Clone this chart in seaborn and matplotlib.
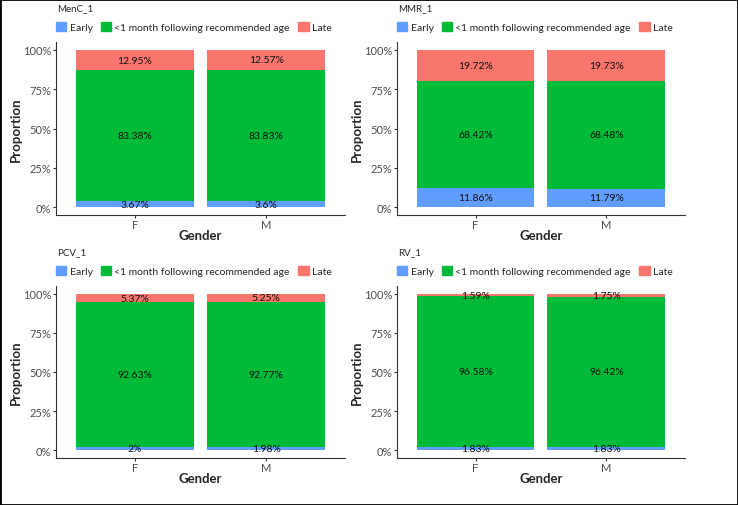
import numpy as np
import pandas as pd
import matplotlib
matplotlib.use("Agg")
import matplotlib.pyplot as plt
import matplotlib.patches as mpatches
from matplotlib.ticker import PercentFormatter
import seaborn as sns

sns.set_style("white")
plt.rcParams['font.family'] = ['Lato', 'DejaVu Sans']

# ---- data (percent) ----
vaccines = ['MenC_1', 'MMR_1', 'PCV_1', 'RV_1']
genders = ['F', 'M']
categories = ['Early', '<1 month following recommended age', 'Late']

early = {'MenC_1': [3.67, 3.6], 'MMR_1': [11.86, 11.79],
         'PCV_1': [2, 1.98], 'RV_1': [1.83, 1.83]}
on_time = {'MenC_1': [83.38, 83.83], 'MMR_1': [68.42, 68.48],
           'PCV_1': [92.63, 92.77], 'RV_1': [96.58, 96.42]}
late = {'MenC_1': [12.95, 12.57], 'MMR_1': [19.72, 19.73],
        'PCV_1': [5.37, 5.25], 'RV_1': [1.59, 1.75]}

colors = ['#619CFF', '#00BA38', '#F8766D']

fig = plt.figure(figsize=(7.38, 5.06), dpi=100)

# axes boxes (left, bottom, width, height) in figure fraction
boxes = [
    [0.0759, 0.5731, 0.3916, 0.3419],
    [0.5379, 0.5731, 0.3902, 0.3419],
    [0.0759, 0.0929, 0.3916, 0.3399],
    [0.5379, 0.0929, 0.3902, 0.3399],
]

for vac, box in zip(vaccines, boxes):
    ax = fig.add_axes(box)
    df = pd.DataFrame({'Gender': genders,
                       'Early': early[vac],
                       'OnTime': on_time[vac],
                       'Late': late[vac]})
    df['top'] = (df['Early'] + df['OnTime'] + df['Late']) / 100
    df['mid'] = (df['Early'] + df['OnTime']) / 100
    df['low'] = df['Early'] / 100

    # overlapping bars give the stacked look
    sns.barplot(data=df, x='Gender', y='top', color=colors[2], width=0.9,
                saturation=1, ax=ax, linewidth=0)
    sns.barplot(data=df, x='Gender', y='mid', color=colors[1], width=0.9,
                saturation=1, ax=ax, linewidth=0)
    sns.barplot(data=df, x='Gender', y='low', color=colors[0], width=0.9,
                saturation=1, ax=ax, linewidth=0)

    # segment labels centred in each piece
    for i, row in df.iterrows():
        pieces = [(row['Early'], row['low'] / 2),
                  (row['OnTime'], (row['low'] + row['mid']) / 2),
                  (row['Late'], (row['mid'] + row['top']) / 2)]
        for val, ypos in pieces:
            ax.text(i, ypos, f"{val:g}%", ha='center', va='center',
                    fontsize=7.5, color='#111111')

    ax.set_xlim(-0.6, 1.6)
    ax.set_ylim(-0.05, 1.05)
    ax.set_yticks([0, 0.25, 0.5, 0.75, 1.0])
    ax.yaxis.set_major_formatter(PercentFormatter(1.0, decimals=0))
    ax.set_xlabel('Gender', fontsize=9.5, fontweight='bold', labelpad=-0.5)
    ax.set_ylabel('Proportion', fontsize=9.5, fontweight='bold', labelpad=0.5)
    ax.tick_params(axis='both', labelsize=8, labelcolor='#4D4D4D',
                   color='#333333', length=2.5, width=0.8,
                   bottom=True, left=True)
    ax.tick_params(axis='x', pad=0.5)
    ax.tick_params(axis='y', pad=1)
    sns.despine(ax=ax)
    for side in ['left', 'bottom']:
        ax.spines[side].set_color('#333333')
        ax.spines[side].set_linewidth(0.8)

    handles = [mpatches.Patch(color=c, label=l) for c, l in zip(colors, categories)]
    ax.legend(handles=handles, loc='lower left', bbox_to_anchor=(0.0, 1.058),
              ncol=3, frameon=False, fontsize=7.5, borderpad=0,
              borderaxespad=0, handlelength=1.0, handleheight=1.0,
              handletextpad=0.3, columnspacing=0.8)
    ax.text(0.003, 1.2, vac, transform=ax.transAxes, fontsize=7,
            ha='left', va='center')

# thin frame round the whole picture
fig.patches.append(mpatches.Rectangle((0, 0), 1, 1, transform=fig.transFigure,
                                      fill=False, edgecolor='black', linewidth=2))

plt.savefig('out.png', dpi=100)
